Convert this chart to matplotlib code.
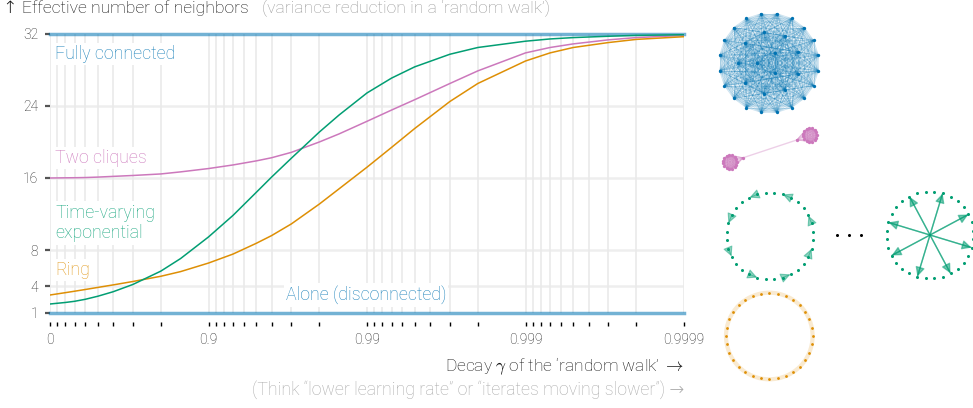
import numpy as np
import matplotlib
matplotlib.use("Agg")
import matplotlib.pyplot as plt
from matplotlib.collections import LineCollection
from matplotlib.patches import FancyArrowPatch, Circle
from matplotlib.ticker import FixedLocator, LogLocator, NullFormatter

plt.rcParams['font.family'] = ['Roboto', 'DejaVu Sans']
plt.rcParams['font.weight'] = 'light'
plt.rcParams['mathtext.fontset'] = 'cm'

BLUE = '#0173b2'
ORANGE = '#de8f05'
GREEN = '#029e73'
PINK = '#cc78bc'

# decay values and effective number of neighbors
gamma = [0, 0.2, 0.3, 0.4, 0.5, 0.6, 0.7, 0.8, 0.85, 0.9, 0.93, 0.95, 0.96, 0.97,
         0.98, 0.985, 0.99, 0.993, 0.995, 0.997, 0.998, 0.999, 0.9993, 0.9995,
         0.9997, 0.9998, 0.9999]
time_varying = [2.0, 2.17, 2.3, 2.52, 2.86, 3.36, 4.17, 5.65, 7.05, 9.45, 11.85, 14.4,
                16.1, 18.2, 21.1, 23.0, 25.45, 27.1, 28.35, 29.75, 30.5, 31.2, 31.45,
                31.6, 31.75, 31.85, 31.92]
two_cliques = [16.0, 16.02, 16.03, 16.05, 16.1, 16.18, 16.28, 16.45, 16.68, 17.05,
               17.45, 17.9, 18.25, 18.85, 20.0, 20.9, 22.3, 23.55, 24.7, 26.5, 27.9,
               29.9, 30.5, 30.9, 31.35, 31.6, 31.85]
ring = [3.0, 3.26, 3.42, 3.61, 3.84, 4.12, 4.5, 5.08, 5.6, 6.55, 7.55, 8.74, 9.6,
        10.9, 13.1, 14.8, 17.2, 19.4, 21.5, 24.5, 26.5, 29.0, 29.9, 30.5, 31.05,
        31.4, 31.7]
fully_connected = 32
alone = 1

xtick_pos = [1, 0.1, 0.01, 0.001, 0.0001]
xtick_labels = ['0', '0.9', '0.99', '0.999', '0.9999']
yticks = [1, 4, 8, 16, 24, 32]

W, H = 973, 408
fig = plt.figure(figsize=(W / 100, H / 100), dpi=100)

# overlay in pixel coordinates for the little graph drawings
net = fig.add_axes([0, 0, 1, 1])
net.set_xlim(0, W)
net.set_ylim(H, 0)
net.axis('off')

ax = fig.add_axes([50 / W, 95 / H, 634 / W, 279 / H])
x = 1 - np.array(gamma)
ax.set_xscale('log')
ax.set_xlim(1, 1e-4)
ax.set_ylim(1, 32)

ax.axhline(fully_connected, color=BLUE, alpha=0.55, lw=2.5, clip_on=False, zorder=3)
ax.axhline(alone, color=BLUE, alpha=0.55, lw=2.5, clip_on=False, zorder=3)
ax.plot(x, two_cliques, color=PINK, lw=1.1, zorder=3)
ax.plot(x, ring, color=ORANGE, lw=1.1, zorder=3)
ax.plot(x, time_varying, color=GREEN, lw=1.1, zorder=3)

for s in ax.spines.values():
    s.set_visible(False)
ax.spines['bottom'].set_position(('outward', 6.5))

ax.xaxis.set_major_locator(FixedLocator(xtick_pos))
ax.set_xticklabels(xtick_labels)
ax.xaxis.set_minor_locator(LogLocator(base=10, subs=range(2, 10)))
ax.xaxis.set_minor_formatter(NullFormatter())
ax.tick_params(axis='x', which='both', length=3, width=1, color='black',
               labelsize=10, pad=5, labelcolor='#222222')
ax.set_yticks(yticks)
ax.tick_params(axis='y', length=3.5, width=1.6, color='#555555', labelsize=10,
               pad=5, labelcolor='#222222')

for v in yticks[1:-1]:
    ax.axhline(v, color='#eeeeee', lw=1.8, zorder=0)
for v in list(xtick_pos) + list(ax.xaxis.get_minorticklocs()):
    if 1e-4 <= v <= 1:
        ax.axvline(v, color='#eaeaea', lw=1.2, zorder=0)

ytr = ax.get_yaxis_transform()
bg = dict(facecolor='white', edgecolor='none', pad=1.5)
fs = 12.8
ax.text(0.008, 29.8, 'Fully connected', color=BLUE, alpha=0.9, fontsize=fs,
        va='center', transform=ytr, bbox=bg, zorder=4)
ax.text(0.008, 18.2, 'Two cliques', color=PINK, fontsize=fs, va='center',
        transform=ytr, bbox=bg, zorder=4)
ax.text(0.008, 11.0, 'Time-varying\nexponential', color=GREEN, alpha=0.9,
        fontsize=fs, va='center', linespacing=1.2, transform=ytr, bbox=bg, zorder=4)
ax.text(0.008, 5.8, 'Ring', color=ORANGE, alpha=0.9, fontsize=fs, va='center',
        transform=ytr, bbox=bg, zorder=4)
ax.text(0.372, 3.0, 'Alone (disconnected)', color=BLUE, alpha=0.9, fontsize=fs,
        va='center', transform=ytr, bbox=bg, zorder=4)

fig.text(3 / W, 1 - 13 / H, '\u2191 Effective number of neighbors', fontsize=12.6,
         color='#111111', va='baseline')
fig.text(262 / W, 1 - 13 / H, '(variance reduction in a \u2018random walk\u2019)',
         fontsize=12.6, color='#999999', va='baseline')
fig.text(684 / W, 1 - 371 / H,
         'Decay $\\gamma$ of the \u2018random walk\u2019 $\\rightarrow$',
         fontsize=12.5, color='#111111', ha='right', va='baseline')
fig.text(684 / W, 1 - 395 / H,
         '(Think \u201clower learning rate\u201d or \u201citerates moving slower\u201d) \u2192',
         fontsize=12.8, color='#aaaaaa', ha='right', va='baseline')


def circle_pts(cx, cy, r, n, offset_deg=0.0):
    a = np.deg2rad(offset_deg + 360.0 * np.arange(n) / n)
    return np.column_stack([cx + r * np.cos(a), cy - r * np.sin(a)])


# fully connected graph
pts = np.vstack([circle_pts(769, 63, 50, 20, 9),
                 circle_pts(769, 63, 31, 9, 20),
                 circle_pts(769, 63, 12, 3, 60)])
segs = [[pts[i], pts[j]] for i in range(len(pts)) for j in range(i + 1, len(pts))]
net.add_collection(LineCollection(segs, colors=BLUE, alpha=0.2, lw=0.6))
net.plot(pts[:, 0], pts[:, 1], 'o', color=BLUE, ms=2.4, mec='none')

# two cliques
for (cx, cy), (bx, by) in [((730, 162), (743.3, 157.7)), ((810, 135), (796.7, 140))]:
    cp = np.vstack([circle_pts(cx, cy, 7, 15), [[bx, by]]])
    segs = [[cp[i], cp[j]] for i in range(len(cp)) for j in range(i + 1, len(cp))]
    net.add_collection(LineCollection(segs, colors=PINK, alpha=0.3, lw=0.5))
    net.plot(cp[:, 0], cp[:, 1], 'o', color=PINK, ms=2.4, mec='none')
net.plot([743.3, 796.7], [157.7, 140], color=PINK, alpha=0.35, lw=1)

# time-varying exponential, first and last step
step = 360 / 32
tv1 = circle_pts(770, 236, 43.5, 32, -1.5 * step)
for k in range(8):
    i = 4 * k
    net.add_patch(FancyArrowPatch(tv1[i - 1], tv1[i], arrowstyle='-|>',
                                  mutation_scale=15, color=GREEN, alpha=0.45,
                                  shrinkA=0, shrinkB=0, lw=0.8))
net.plot(tv1[:, 0], tv1[:, 1], 'o', color=GREEN, ms=2.2, mec='none')

tv2 = circle_pts(930, 235, 43.5, 32, -1.5 * step)
for k in range(8):
    i = 4 * k
    net.add_patch(FancyArrowPatch(tv2[(i + 16) % 32], tv2[i], arrowstyle='-|>',
                                  mutation_scale=14, color=GREEN, alpha=0.55,
                                  shrinkA=0, shrinkB=0, lw=1))
net.plot(tv2[:, 0], tv2[:, 1], 'o', color=GREEN, ms=2.2, mec='none')

net.plot([837.3, 849.3, 861.3], [235, 235, 235], 'o', color='black', ms=2.2, mec='none')

# ring
net.add_patch(Circle((769.3, 336), 43.3, fill=False, ec=ORANGE, alpha=0.18, lw=3))
rp = circle_pts(769.3, 336, 43.3, 32)
net.plot(rp[:, 0], rp[:, 1], 'o', color=ORANGE, ms=2.0, mec='none')

fig.savefig('out.png', dpi=100)
